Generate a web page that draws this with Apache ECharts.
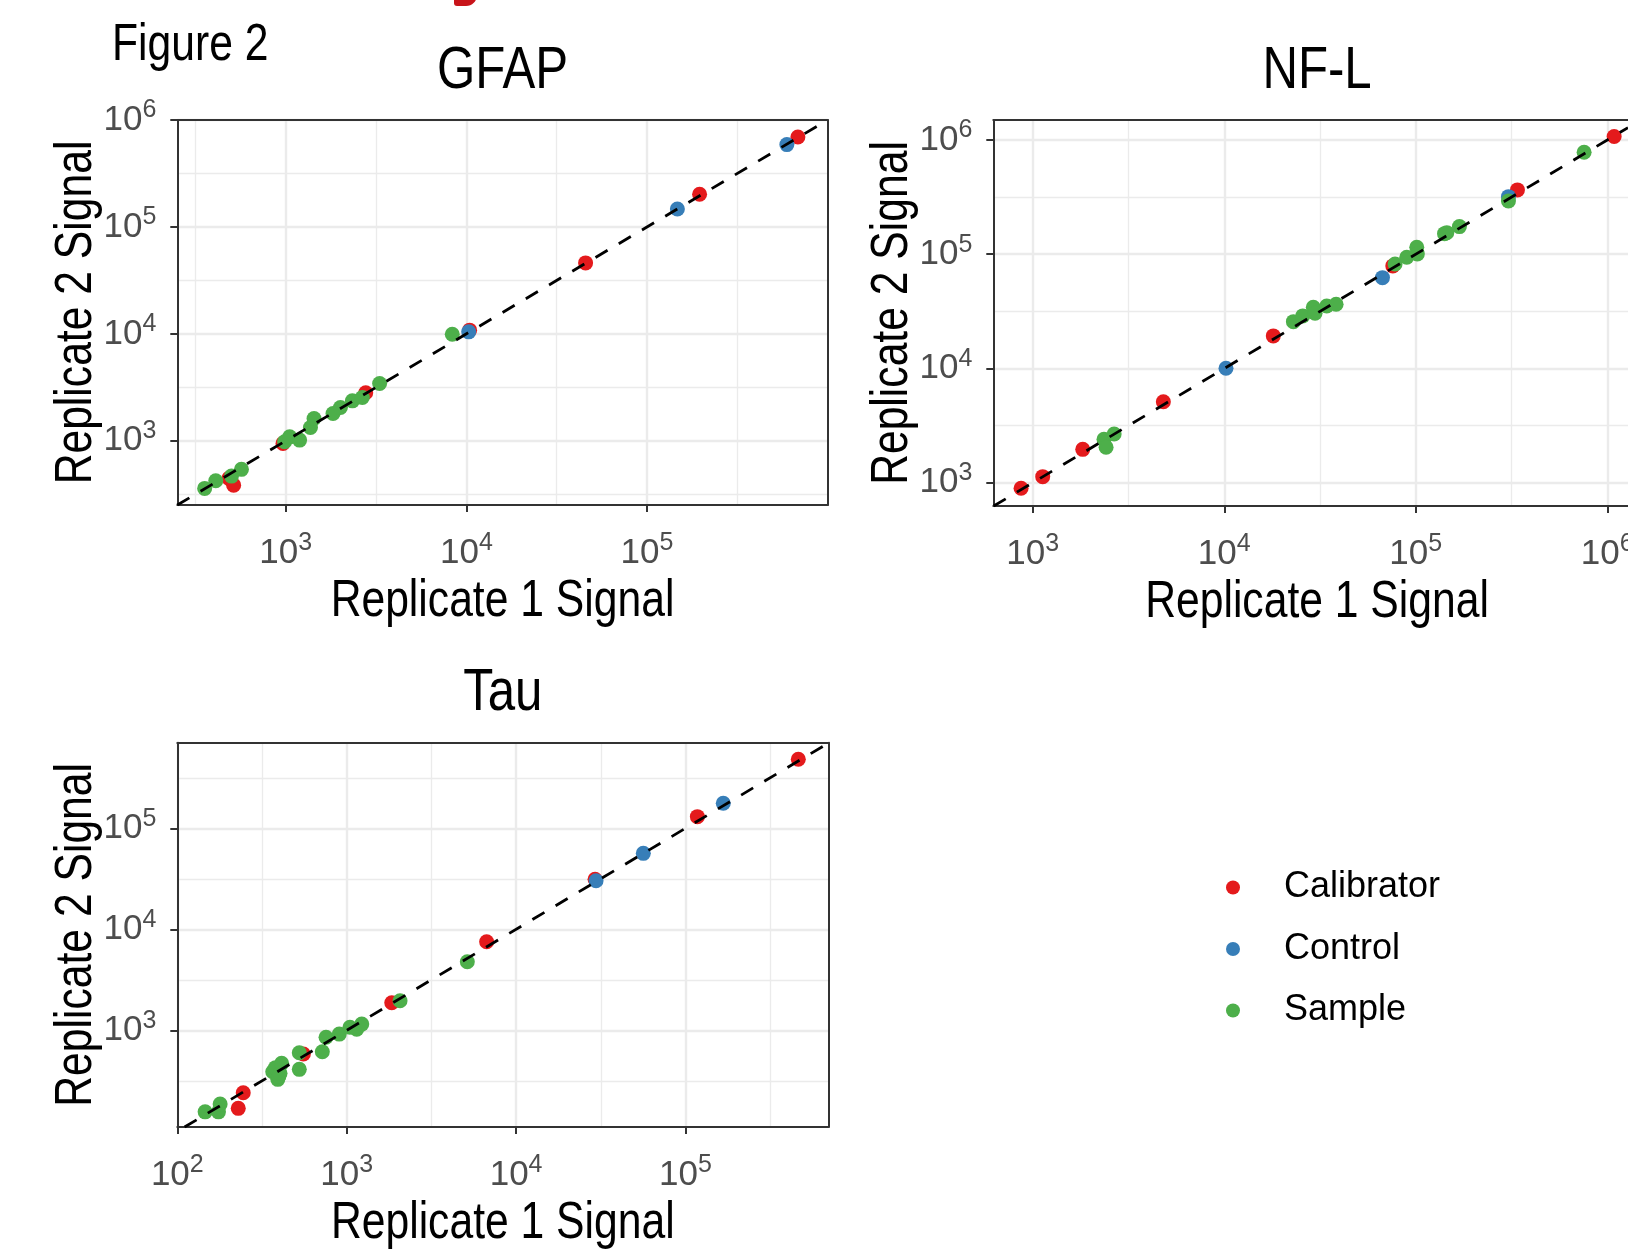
<!DOCTYPE html>
<html>
<head>
<meta charset="utf-8">
<title>Figure 2</title>
<script src="https://cdn.jsdelivr.net/npm/echarts@6/dist/echarts.min.js"></script>
<style>
html, body { margin: 0; padding: 0; background: #fff; }
#main { width: 1628px; height: 1259px; }
</style>
</head>
<body>
<div id="main"></div>
<script>
var myChart = echarts.init(document.getElementById('main'));

var FONT = "'Liberation Sans', Arial, sans-serif";
var NARROW = 0.82; // squeeze for the narrow face used in the original figure
var CANVAS_W = 1628;
var groups = ['Calibrator', 'Control', 'Sample'];
var colors = ['#E41A1C', '#377EB8', '#4DAF4A'];

// signal pairs: [replicate 1, replicate 2]
var gfapCalibrator = [[485, 446], [515, 385], [966, 946], [2773, 2812], [10420, 10840], [45700, 46130], [195400, 202300], [683900, 693400]];
var gfapControl = [[10300, 10450], [147200, 147200], [594300, 588800]];
var gfapSample = [[356, 359], [410, 423], [501, 468], [569, 541], [986, 979], [1052, 1089], [1194, 1016], [1371, 1334], [1435, 1618], [1828, 1803], [2009, 2051], [2339, 2366], [2655, 2541], [3311, 3436], [8356, 9931]];

var nflCalibrator = [[869, 893], [1127, 1130], [1824, 1959], [4808, 5117], [18030, 19280], [75860, 79070], [339600, 365600], [1086000, 1072000]];
var nflControl = [[10210, 10050], [66990, 62370], [304800, 319200]];
var nflSample = [[2355, 2399], [2415, 2042], [2661, 2667], [22960, 25700], [25700, 28840], [29170, 34360], [29790, 30410], [34280, 35240], [38370, 36480], [77980, 82220], [89740, 94190], [101200, 115100], [101900, 100700], [141300, 151400], [145200, 154500], [169000, 174600], [304800, 293100], [756800, 781600]];

var tauCalibrator = [[229, 169], [245, 241], [555, 582], [1845, 1875], [6699, 7534], [29240, 31260], [117500, 130300], [463400, 481900]];
var tauControl = [[29650, 30270], [56360, 56490], [167100, 177000]];
var tauSample = [[146, 156], [175, 156], [179, 186], [366, 389], [380, 427], [392, 327], [398, 351], [404, 375], [413, 471], [525, 411], [525, 600], [718, 614], [755, 853], [904, 918], [1045, 1072], [1146, 1023], [1227, 1153], [2065, 1963], [5152, 4775]];

// axis limits and breaks, in log10 units
var gfapXRange = [2.4, 6.0], gfapYRange = [2.4, 6.0];
var nflXRange = [2.794, 6.175], nflYRange = [2.796, 6.175];
var tauXRange = [2.0, 5.843], tauYRange = [2.043, 5.847];
var gfapXTicks = [3, 4, 5], gfapYTicks = [3, 4, 5, 6];
var nflXTicks = [3, 4, 5, 6], nflYTicks = [3, 4, 5, 6];
var tauXTicks = [2, 3, 4, 5], tauYTicks = [3, 4, 5];
var minorBreaks = [2.5, 3.5, 4.5, 5.5];

var panels = [
    { title: 'GFAP', box: { left: 177.3, top: 120, width: 650.4, height: 385 },
      xr: gfapXRange, yr: gfapYRange, xt: gfapXTicks, yt: gfapYTicks,
      sets: [gfapCalibrator, gfapControl, gfapSample] },
    { title: 'NF-L', box: { left: 993.3, top: 120, width: 647.5, height: 386 },
      xr: nflXRange, yr: nflYRange, xt: nflXTicks, yt: nflYTicks,
      sets: [nflCalibrator, nflControl, nflSample] },
    { title: 'Tau', box: { left: 177.3, top: 742.7, width: 651, height: 384.3 },
      xr: tauXRange, yr: tauYRange, xt: tauXTicks, yt: tauYTicks,
      sets: [tauCalibrator, tauControl, tauSample] }
];

function toLog(pairs) {
    return pairs.map(function (p) { return [Math.log10(p[0]), Math.log10(p[1])]; });
}
function powLabel(v) {
    return '{b|10}{s|' + Math.round(v) + '}';
}
// text drawn squeezed horizontally, centred on (x, y) unless align given
function narrowText(text, x, y, size, rot, align) {
    return {
        type: 'text', x: x, y: y, rotation: rot || 0, scaleX: NARROW, z: 20, silent: true,
        style: { text: text, fill: '#000', fontFamily: FONT, fontSize: size,
                 align: align || 'center', verticalAlign: 'middle' }
    };
}

var tickRich = {
    b: { fontFamily: FONT, fontSize: 35, lineHeight: 44, color: '#4D4D4D' },
    s: { fontFamily: FONT, fontSize: 25, lineHeight: 22, verticalAlign: 'top', color: '#4D4D4D' }
};
function border(show) {
    return { show: show, onZero: false, lineStyle: { color: '#333333', width: 2 } };
}

var grids = [], xAxes = [], yAxes = [], series = [], texts = [];

texts.push(narrowText('Figure 2', 112, 46, 52, 0, 'left'));

panels.forEach(function (p, i) {
    var b = p.box;
    var cx = b.left + b.width / 2, cy = b.top + b.height / 2;

    // the NF-L panel runs past the right edge of the figure: keep only the visible part
    var xr = p.xr.slice(), w = b.width, rightVisible = true;
    if (b.left + w > CANVAS_W) {
        xr[1] = xr[0] + (xr[1] - xr[0]) * (CANVAS_W - b.left) / w;
        w = CANVAS_W - b.left;
        rightVisible = false;
    }
    grids.push({
        left: b.left, top: b.top, width: w, height: b.height, show: false,
        outerBoundsMode: 'none', containLabel: false
    });

    // panel title, axis titles (baselines 28 above / 115 below / 83 left of the panel)
    texts.push(narrowText(p.title, cx, b.top - 28 - 0.346 * 60, 60));
    texts.push(narrowText('Replicate 1 Signal', cx, b.top + b.height + 115 - 0.346 * 52, 52));
    texts.push(narrowText('Replicate 2 Signal', b.left - 83 - 0.346 * 52, cy, 52, Math.PI / 2));

    // major axes: bottom / left with ticks and labels
    xAxes.push({
        type: 'value', gridIndex: i, min: xr[0], max: xr[1], position: 'bottom',
        axisLine: border(true),
        axisTick: { show: true, length: 7, customValues: p.xt, lineStyle: { color: '#333333', width: 2 } },
        axisLabel: { customValues: p.xt, margin: 26, formatter: powLabel, rich: tickRich, hideOverlap: false },
        splitLine: { show: true, customValues: p.xt, lineStyle: { color: '#EBEBEB', width: 2.4 } }
    });
    yAxes.push({
        type: 'value', gridIndex: i, min: p.yr[0], max: p.yr[1], position: 'left',
        axisLine: border(true),
        axisTick: { show: true, length: 7, customValues: p.yt, lineStyle: { color: '#333333', width: 2 } },
        axisLabel: { customValues: p.yt, margin: 21, formatter: powLabel, rich: tickRich },
        splitLine: { show: true, customValues: p.yt, lineStyle: { color: '#EBEBEB', width: 2.4 } }
    });
    // minor axes: top / right, give the panel border and half-decade grid lines
    xAxes.push({
        type: 'value', gridIndex: i, min: xr[0], max: xr[1], position: 'top',
        axisLine: border(true),
        axisTick: { show: false, customValues: minorBreaks },
        axisLabel: { show: false, customValues: minorBreaks },
        splitLine: { show: true, customValues: minorBreaks, lineStyle: { color: '#EBEBEB', width: 1.3 } }
    });
    yAxes.push({
        type: 'value', gridIndex: i, min: p.yr[0], max: p.yr[1], position: 'right',
        axisLine: border(rightVisible),
        axisTick: { show: false, customValues: minorBreaks },
        axisLabel: { show: false, customValues: minorBreaks },
        splitLine: { show: true, customValues: minorBreaks, lineStyle: { color: '#EBEBEB', width: 1.3 } }
    });

    p.sets.forEach(function (set, g) {
        series.push({
            name: groups[g], type: 'scatter', xAxisIndex: 2 * i, yAxisIndex: 2 * i,
            symbol: 'circle', symbolSize: 15, z: 3,
            itemStyle: { color: colors[g], opacity: 1 },
            data: toLog(set)
        });
    });

    // identity line y = x
    var lo = Math.max(xr[0], p.yr[0]), hi = Math.min(xr[1], p.yr[1]);
    series.push({
        name: 'identity', type: 'line', xAxisIndex: 2 * i, yAxisIndex: 2 * i,
        symbol: 'none', silent: true, z: 4,
        lineStyle: { color: '#000', width: 2.8, type: [14, 13] },
        data: [[lo, lo], [hi, hi]]
    });
});

// red fragment cut by the top edge
texts.push({
    type: 'rect', left: 454, top: -16, z: 10,
    shape: { width: 23, height: 22, r: [0, 0, 11, 3] },
    style: { fill: '#C8141A' }
});

var option = {
    animation: false,
    backgroundColor: '#fff',
    grid: grids,
    xAxis: xAxes,
    yAxis: yAxes,
    legend: {
        orient: 'vertical', left: 1226, top: 867.5, padding: 0,
        itemWidth: 92, itemHeight: 14, itemGap: 21.5, icon: 'circle',
        selectedMode: false,
        data: groups,
        textStyle: { fontFamily: FONT, fontSize: 36, lineHeight: 40, color: '#000' }
    },
    graphic: texts,
    series: series
};

myChart.setOption(option);
</script>
</body>
</html>
